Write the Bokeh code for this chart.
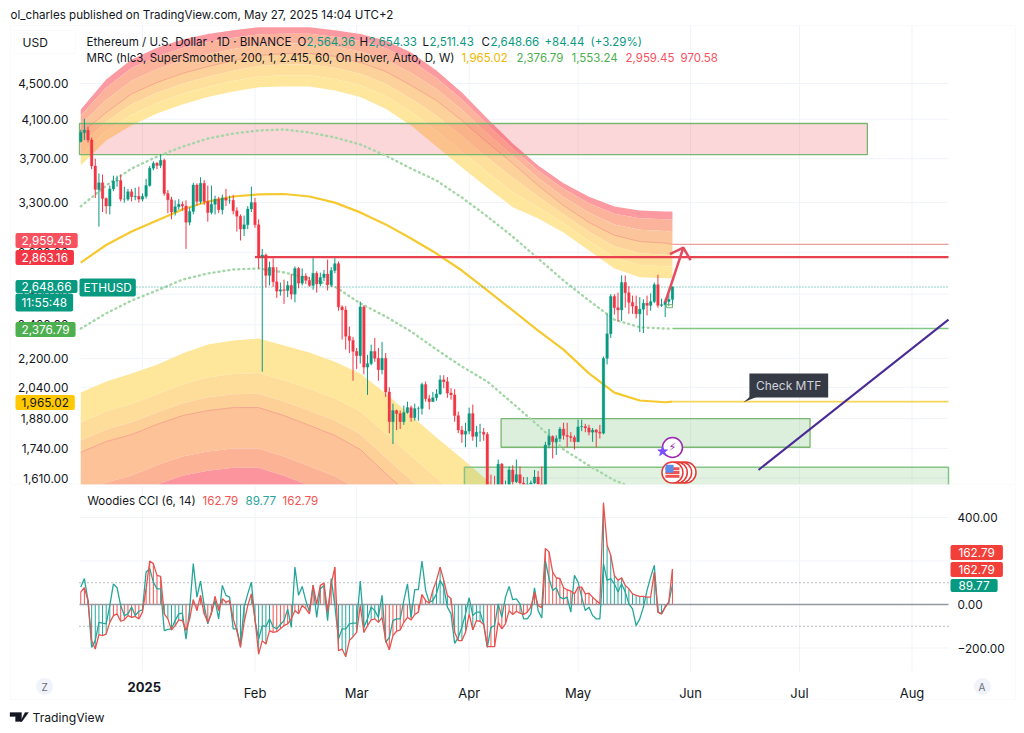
import numpy as np
from bokeh.core.properties import value
from bokeh.embed import file_html
from bokeh.layouts import column
from bokeh.models import (FixedTicker, Label, LinearAxis, LogAxis, NumeralTickFormatter,
                          PolyAnnotation, Range1d)
from bokeh.plotting import figure
from bokeh.resources import INLINE

FONT = "Inter"
RED = "#f23645"
GREEN = "#089981"
TEAL = "#26a69a"
GRID = "#f0f3fa"

# days are counted from 2025-01-01, first candle is 2024-12-15
first_day = -17
first_open = 3870
closes = [3960, 3985, 3885, 3630, 3415, 3475, 3335, 3270, 3420, 3490, 3495, 3330, 3330, 3395, 3350, 3355, 3330,
          3355, 3450, 3610, 3655, 3635, 3685, 3380, 3325, 3220, 3265, 3285, 3270, 3135, 3225, 3455, 3310,
          3470, 3310, 3215, 3285, 3330, 3240, 3340, 3320, 3320, 3230, 3185, 3080, 3115, 3245, 3300,
          3115, 2870, 2880, 2730, 2788, 2685, 2620, 2630, 2625, 2660, 2600, 2780, 2675, 2725, 2695, 2660,
          2745, 2670, 2715, 2740, 2665, 2765, 2815, 2515, 2495, 2330, 2305, 2240,
          2215, 2515, 2150, 2170, 2240, 2200, 2135, 2200, 2015, 1865, 1920, 1905, 1865, 1910, 1935, 1885,
          1930, 1930, 2055, 1980, 1965, 1985, 2005, 2080, 2070, 2010, 2000, 1895, 1825, 1805, 1820,
          1905, 1795, 1815, 1815, 1805, 1580, 1555, 1475, 1670, 1520, 1565, 1645, 1595, 1625, 1590,
          1575, 1585, 1590, 1615, 1585, 1578, 1755, 1795, 1770, 1785, 1830, 1800, 1795, 1790, 1770,
          1840, 1842, 1835, 1815, 1825, 1815, 1810, 2200, 2345, 2585, 2510, 2495, 2680, 2610, 2545,
          2520, 2470, 2500, 2540, 2525, 2550, 2665, 2525, 2530, 2550, 2564.36, 2648.66]
highs = [3990, 4105, 4020, 3910, 3700, 3560, 3550, 3345, 3450, 3540, 3540, 3550, 3440, 3420, 3420, 3430, 3440,
         3380, 3510, 3630, 3675, 3670, 3745, 3700, 3410, 3350, 3320, 3330, 3310, 3320, 3260, 3475, 3470,
         3525, 3500, 3450, 3450, 3360, 3350, 3370, 3420, 3360, 3365, 3260, 3200, 3190, 3270, 3440,
         3340, 3160, 2925, 2890, 2830, 2855, 2790, 2680, 2700, 2690, 2740, 2795, 2790, 2780, 2745, 2720,
         2855, 2760, 2750, 2770, 2845, 2790, 2855, 2830, 2525, 2520, 2390, 2325,
         2260, 2550, 2525, 2220, 2280, 2320, 2260, 2295, 2230, 2040, 1955, 1925, 1920, 1945, 1965, 1945,
         1955, 1940, 2065, 2070, 2000, 2015, 2030, 2105, 2105, 2095, 2035, 2030, 1915, 1845, 1860,
         1935, 1950, 1845, 1855, 1835, 1815, 1625, 1620, 1690, 1675, 1600, 1660, 1665, 1690, 1660,
         1615, 1615, 1600, 1645, 1640, 1660, 1770, 1830, 1800, 1800, 1840, 1860, 1860, 1815, 1800,
         1875, 1875, 1855, 1850, 1835, 1830, 1850, 2210, 2470, 2600, 2600, 2610, 2730, 2730, 2655,
         2590, 2590, 2580, 2565, 2590, 2605, 2680, 2735, 2570, 2570, 2600, 2654.33]
lows = [3860, 3885, 3860, 3600, 3340, 3100, 3220, 3205, 3200, 3400, 3440, 3310, 3300, 3315, 3310, 3320, 3300,
        3310, 3335, 3440, 3590, 3600, 3610, 3360, 3210, 3160, 3190, 3240, 3230, 2925, 3110, 3200, 3275,
        3290, 3280, 3140, 3200, 3200, 3210, 3200, 3270, 3290, 3200, 3060, 2990, 3025, 3080, 3220,
        3090, 2780, 2125, 2645, 2660, 2650, 2575, 2590, 2535, 2580, 2565, 2545, 2640, 2660, 2670, 2650,
        2630, 2610, 2655, 2690, 2625, 2650, 2745, 2490, 2310, 2250, 2230, 2075,
        2140, 2170, 2110, 2000, 2160, 2180, 2075, 2110, 1990, 1810, 1760, 1825, 1830, 1850, 1905, 1865,
        1870, 1870, 1900, 1965, 1925, 1965, 1970, 2000, 2035, 1985, 1975, 1865, 1810, 1765, 1745,
        1805, 1775, 1745, 1770, 1775, 1535, 1410, 1450, 1385, 1470, 1500, 1540, 1565, 1590, 1570,
        1535, 1565, 1570, 1585, 1565, 1565, 1570, 1740, 1695, 1710, 1770, 1780, 1745, 1770, 1735,
        1770, 1820, 1815, 1800, 1770, 1745, 1785, 1805, 2165, 2320, 2465, 2420, 2425, 2510, 2470,
        2470, 2440, 2355, 2350, 2460, 2490, 2540, 2510, 2515, 2450, 2520, 2511.43]

# MRC channel, read at these days
curve_days = [-17, -10, -3, 4, 11, 18, 25, 32, 39, 46, 53, 60, 67, 74, 81, 88, 95, 102, 109, 116, 123, 130, 137, 144, 146]
upper_top = [4205, 4547, 4790, 4940, 5045, 5120, 5170, 5210, 5210, 5210, 5170, 5120, 5033, 4880, 4655, 4395, 4108, 3850, 3635, 3470, 3350, 3266, 3233, 3225, 3225]
upper_mid = [3951, 4172, 4380, 4512, 4620, 4702, 4778, 4840, 4865, 4865, 4830, 4755, 4643, 4477, 4305, 4087, 3859, 3655, 3450, 3275, 3134, 3030, 2982, 2970, 2959.45]
upper_bot = [3634, 3879, 4035, 4162, 4262, 4345, 4406, 4455, 4465, 4465, 4418, 4345, 4215, 4035, 3819, 3616, 3431, 3261, 3166, 3053, 2913, 2779, 2717, 2710, 2710]
r1_line = [3268, 3450, 3606, 3720, 3817, 3899, 3950, 3982, 3992, 3961, 3910, 3840, 3730, 3606, 3495, 3344, 3183, 3020, 2853, 2694, 2557, 2433, 2385, 2377, 2376.79]
mean_line = [2823, 2955, 3060, 3150, 3241, 3309, 3353, 3371, 3375, 3353, 3300, 3217, 3118, 3005, 2890, 2765, 2625, 2492, 2365, 2250, 2115, 2012, 1971, 1962, 1965.02]
s1_line = [2377, 2473, 2557, 2625, 2700, 2744, 2772, 2780, 2751, 2708, 2652, 2538, 2453, 2359, 2251, 2153, 2071, 1956, 1847, 1735, 1664, 1601, 1559, 1555, 1553.24]
lower_top = [2012, 2071, 2115, 2164, 2228, 2280, 2304, 2316, 2275, 2234, 2181, 2115, 2007, 1895, 1790, 1695, 1601, 1500, 1420, 1350, 1300, 1265, 1250, 1240, 1238]
lower_mid = [1722, 1771, 1804, 1852, 1895, 1920, 1935, 1935, 1895, 1847, 1800, 1735, 1630, 1535, 1450, 1370, 1290, 1215, 1150, 1090, 1040, 1000, 975, 970, 970.58]

# Woodies CCI, one value per candle
cci_fast = [80, 119, 18, -197, -166, -82, -86, -89, -5, 95,
            77, -5, -51, -43, -12, -51, -31, -25, 149, 165,
            103, 72, 72, -120, -114, -112, -74, -43, -40, -159,
            -20, 188, 34, 108, -5, -89, -35, 18, -66, 88,
            42, 34, -112, -112, -189, -12, 49, 103, -74, -159,
            -97, -102, -66, -102, -112, -92, -74, -20, -105, 172,
            42, 83, 18, -35, 88, -59, 72, 88, -74, 119,
            -5, -159, -112, -112, -89, -86, -86, 108, -105, -66,
            -12, -28,
            -59, 42, -174, -151, -74, -66, -66, 18, 95, -59,
            68, 68, 200, 65, 11, 18, 49, 111, 80, -12,
            -43, -179, -151, -105, -43, 31, -51, -35, -35, -89,
            -197, -105, -97, 3, -59, 34, 83, 22, 26, 3,
            -66, -66, -43, 77, -28, -62, 200, 119, 65, 77,
            34, 26, 34, -35, 134, 103, 34, -28, -12, -51,
            -66, -66, 188, 111, 119, 95, 57, 95, 57, 3,
            -20, -97, -66, -12, 65, 126, 180, -35, -43, -12,
            11, 89.77]
cci_slow = [57, 77, 18, -166, -205, -139, -143, -136, -82, -51,
            -43, -77, -71, -51, -59, -55, -66, -35, 72, 200,
            188, 134, 129, -43, -66, -117, -97, -71, -74, -120,
            -66, 22, -28, 42, -43, -82, -43, 37, -28, 26,
            11, 18, -66, -120, -197, -82, -5, 49, -66, -228,
            -166, -182, -120, -128, -125, -112, -97, -89, -66, -28,
            -43, -5, -20, -43, 88, 3, 88, 99, -35, 95,
            172, -212, -205, -240, -166, -148, -128, -5, -128, -97,
            -71, -66,
            -82, -59, -166, -208, -143, -123, -117, -82, -59, -71,
            -46, -35, 46, 18, 6, 65, 111, 172, 111, 42,
            26, -128, -166, -166, -128, -43, -117, -74, -77, -92,
            -194, -194, -194, -82, -112, -89, -28, -46, -31, -40,
            -46, -35, -12, 57, -5, -15, 257, 242, 149, 123,
            119, 77, 68, 62, 49, 80, 80, 49, 52, 34,
            18, 3, 468, 273, 226, 134, 111, 123, 88, 72,
            49, 42, 37, 37, 34, 34, 149, -35, -43, -12,
            11, 162.79]
# first and last day of the histogram runs drawn in teal
teal_runs = [(-15, -9), (6, 11), (25, 35), (54, 65), (80, 94), (127, 145)]

price_ticks = [4500, 4100, 3700, 3300, 2900, 2600, 2400, 2200, 2040, 1880, 1740, 1610]
cci_ticks = [400, 200, 0, -200]
month_days = [0, 31, 59, 90, 120, 151, 181, 212]
month_names = ["", "Feb", "Mar", "Apr", "May", "Jun", "Jul", "Aug"]

last_price = 2648.66
red_level = 2863.16
pink_zone = (3740, 4055)
green_zone = (1745, 1880)
low_zone = (1400, 1656)

days = np.arange(first_day, first_day + len(closes))
opens = [first_open] + closes[:-1]

# the frames fill the whole canvas so that tags and header can lie on the scales,
# the chart itself only uses this part of the time range
chart_left, chart_right = -17.35, 222.05
x_range = Range1d(-39.11, 240.78)
p_bottom, p_top = 1584, 5233
q_bottom, q_top = -308, 542.5


def put(p, x, y, text, color="#131722", bg=None, size="11.8px", weight="normal", pad=(6, 3), bottom=486):
    # x and y are positions on the page
    kw = dict(background_fill_color=bg, border_radius=2, padding=pad) if bg else {}
    p.add_layout(Label(x=x, y=bottom - y, x_units="screen", y_units="screen", text=text, text_color=color,
                       text_font=FONT, text_font_size=size, text_font_style=weight,
                       text_baseline="middle", level="overlay", **kw))


def outline(p, xs, ys, fill=None, line="#eef0f5", bottom=486, width=1):
    p.add_layout(PolyAnnotation(xs=xs, ys=[bottom - v for v in ys], xs_units="screen", ys_units="screen",
                                fill_color=fill, fill_alpha=1 if fill else 0, line_color=line, line_width=width,
                                level="overlay"))


p = figure(width=1016, height=486, y_axis_type="log", x_range=x_range, y_range=Range1d(1575.5, 5586),
           x_axis_location=None, y_axis_location=None, output_backend="svg", toolbar_location=None,
           min_border=0)
p.outline_line_color = None
p.grid.visible = False
p.segment([chart_left] * len(price_ticks), price_ticks, [chart_right] * len(price_ticks), price_ticks, line_color=GRID)
p.segment(month_days, p_bottom, month_days, p_top, line_color=GRID)

price_axis = LogAxis(fixed_location=-18.46, ticker=FixedTicker(ticks=price_ticks),
                     formatter=NumeralTickFormatter(format="0,0.00"))
price_axis.axis_line_color = None
price_axis.major_tick_line_color = None
price_axis.minor_tick_line_color = None
price_axis.major_label_text_font = FONT
price_axis.major_label_text_font_size = "11.8px"
price_axis.major_label_text_color = "#131722"
price_axis.major_label_standoff = 1
p.add_layout(price_axis, "left")


def blend(a, b, t):
    return np.exp(np.log(a) * (1 - t) + np.log(b) * t)


top, mid, bot = np.array(upper_top), np.array(upper_mid), np.array(upper_bot)
upper_edges = [top, blend(top, mid, 0.25), blend(top, mid, 0.62), mid, blend(mid, bot, 0.33), blend(mid, bot, 0.66), bot]
upper_colors = ["#fb9aa0", "#fcb39b", "#fcc49a", "#fdd29a", "#fedf9b", "#fee79d"]
for e1, e2, c in zip(upper_edges[:-1], upper_edges[1:], upper_colors):
    p.varea(curve_days, e1, e2, fill_color=c)

ltop, lmid = np.array(lower_top), np.array(lower_mid)
lower_edges = [ltop, blend(ltop, lmid, 0.5), blend(ltop, lmid, 0.8), lmid, lmid * 0.899, lmid * 0.855, lmid * 0.6]
lower_colors = ["#fee79a", "#fedc99", "#fdd098", "#fdc298", "#fcb295", "#fb949c"]
for e1, e2, c in zip(lower_edges[:-1], lower_edges[1:], lower_colors):
    p.varea(curve_days, e2, e1, fill_color=c)
p.line(curve_days, upper_mid, line_color="#f0937f", line_width=1, line_alpha=0.7)
p.line(curve_days, lower_mid, line_color="#f0937f", line_width=1, line_alpha=0.7)

# zones
p.quad(left=chart_left, right=199.7, bottom=pink_zone[0], top=pink_zone[1], fill_color=RED, fill_alpha=0.2,
       line_color="#79b66f", line_width=1.3)
p.quad(left=98.8, right=183.9, bottom=green_zone[0], top=green_zone[1], fill_color="#4caf50", fill_alpha=0.2,
       line_color="#79b66f", line_width=1.3)
p.quad(left=88.7, right=chart_right, bottom=low_zone[0], top=low_zone[1], fill_color="#4caf50", fill_alpha=0.17,
       line_color="#86c386", line_width=1.5)

# mean and outer lines, then flat projections right of the last candle
p.line(curve_days, r1_line, line_color="#a5d6a7", line_width=2.4, line_dash=[1, 4], line_cap="round")
p.line(curve_days, s1_line, line_color="#a5d6a7", line_width=2.4, line_dash=[1, 4], line_cap="round")
p.line(curve_days, mean_line, line_color="#f6c92f", line_width=2.2)
project = [146, chart_right]
p.line(project, [upper_mid[-1]] * 2, line_color="#e9a09c", line_width=1.2)
p.line(project, [r1_line[-1]] * 2, line_color="#81c784", line_width=1.5)
p.line(project, [mean_line[-1]] * 2, line_color="#f6d55c", line_width=1.8)
p.line([chart_left, chart_right], [last_price] * 2, line_color=TEAL, line_width=1, line_dash=[1, 2])
p.line([31, chart_right], [red_level] * 2, line_color="#e8404e", line_width=2.4)

colors = [GREEN if c >= o else RED for o, c in zip(opens, closes)]
p.segment(days, lows, days, highs, line_color=colors, line_width=1)
p.vbar(x=days, bottom=opens, top=closes, width=0.72, fill_color=colors, line_color=colors, line_width=0.3)

# white strip that ends the candle pane, it keeps the wicks out of the gap below
p.quad(left=chart_left - 30, right=chart_right + 30, bottom=1575, top=p_bottom, fill_color="white", line_color=None)

# drawings
p.quad(left=144.4, right=146, bottom=2510, top=2530, fill_color=None, line_color="#79b66f", line_width=1)
p.line([144, 149], [2544, 2934], line_color="#e34b5f", line_width=2.5)
p.line([145.3, 149, 151], [2886, 2934, 2840], line_color="#e34b5f", line_width=2.5)
p.line([169.7, 222.05], [1645, 2433], line_color="#4a2a94", line_width=2)
p.patch([165.6, 167.3, 169.3], [1962, 1990, 1990], fill_color="#363a45", line_color=None)
p.quad(left=167.2, right=188.9, bottom=1987, top=2115, fill_color="#363a45", line_color=None)
p.text([178], [2050], ["Check MTF"], text_color="#d1d4dc", text_font=value(FONT), text_font_size="12px",
       text_align="center", text_baseline="middle")

# event badges
p.scatter([149.6, 148.4, 147.2, 146], [1634] * 4, size=21, fill_color="white", line_color="#e53935", line_width=1.5)
p.rect([146] * 3, [1650, 1634, 1618], width=14, height=3, width_units="screen", height_units="screen", fill_color="#ef5350", line_color=None)
p.rect([145.2], [1650], width=8, height=8, width_units="screen", height_units="screen", fill_color="#5b8de8", line_color=None)
p.scatter([146], [1744], size=20, fill_color="white", line_color="#9c27b0", line_width=1.5)
p.text([146], [1744], ["⚡"], text_color="#9c27b0", text_font=value("DejaVu Sans"), text_font_size="11px",
       text_align="center", text_baseline="middle")
p.scatter([143.3], [1726], marker="star", size=10, fill_color="#7c4dff", line_color="#7c4dff")

# header and frame, positions are page pixels
outline(p, [10, 10, 1015, 1015], [25, 484, 484, 25])
outline(p, [14, 75, 75, 14], [30, 30, 53, 53], fill="white", line="#f0f3fa")
put(p, 10, 14, "ol_charles published on TradingView.com, May 27, 2025 14:04 UTC+2", size="11.6px")
put(p, 22, 42, "USD", size="12px")
for x, text, color, size in [(86, "Ethereum / U.S. Dollar · 1D · BINANCE", "#131722", "11.6px"), (297, "O", "#131722", "11.5px"),
                             (306, "2,564.36", GREEN, "11.5px"), (359, "H", "#131722", "11.5px"), (368, "2,654.33", GREEN, "11.5px"),
                             (422, "L", "#131722", "11.5px"), (429, "2,511.43", GREEN, "11.5px"), (481, "C", "#131722", "11.5px"),
                             (490, "2,648.66", GREEN, "11.5px"), (544, "+84.44", GREEN, "11.5px"), (590, "(+3.29%)", GREEN, "11.5px")]:
    put(p, x, 41, text, color=color, size=size)
for x, text, color, size in [(86, "MRC (hlc3, SuperSmoother, 200, 1, 2.415, 60, On Hover, Auto, D, W)", "#131722", "11.5px"),
                             (461, "1,965.02", "#f2b600", "11.5px"), (516, "2,376.79", "#4caf50", "11.5px"), (571, "1,553.24", "#4caf50", "11.5px"),
                             (625, "2,959.45", "#f7525f", "11.5px"), (680, "970.58", "#f7525f", "11.5px")]:
    put(p, x, 57, text, color=color, size=size)

# price tags over the scale
put(p, 15, 240, "2,959.45", color="white", bg="#f7525f")
put(p, 15, 257, "2,863.16", color="white", bg=RED)
put(p, 15, 286, "2,648.66", color="white", bg=GREEN, pad=(6, 2))
put(p, 15, 302, "11:55:48", color="white", bg=GREEN, pad=(6, 2))
put(p, 79, 287, "ETHUSD", color="white", bg=GREEN, pad=(4, 2))
put(p, 15, 329, "2,376.79", color="white", bg="#4caf50")
put(p, 15, 402, "1,965.02", bg="#ffc800")

# second pane
q = figure(width=1016, height=239, x_range=x_range, y_range=Range1d(-556.3, q_top),
           x_axis_location=None, y_axis_location=None, output_backend="svg", toolbar_location=None,
           min_border=0)
q.outline_line_color = None
q.grid.visible = False
q.segment([chart_left] * len(cci_ticks), cci_ticks, [chart_right] * len(cci_ticks), cci_ticks, line_color=GRID)
q.segment(month_days, q_bottom, month_days, q_top, line_color=GRID)

time_axis = LinearAxis(fixed_location=q_bottom, ticker=FixedTicker(ticks=month_days),
                       major_label_overrides=dict(zip(month_days, month_names)))
time_axis.axis_line_color = None
time_axis.major_tick_line_color = None
time_axis.minor_tick_line_color = None
time_axis.major_label_text_font = FONT
time_axis.major_label_text_font_size = "13px"
time_axis.major_label_text_color = "#131722"
time_axis.major_label_standoff = 8
q.add_layout(time_axis, "below")

cci_axis = LinearAxis(fixed_location=222.6, ticker=FixedTicker(ticks=cci_ticks),
                      major_label_overrides={400: "400.00", 200: "", 0: "0.00", -200: "−200.00"})
cci_axis.axis_line_color = None
cci_axis.major_tick_line_color = None
cci_axis.minor_tick_line_color = None
cci_axis.major_label_text_font = FONT
cci_axis.major_label_text_font_size = "11.8px"
cci_axis.major_label_text_color = "#131722"
cci_axis.major_label_standoff = 1
q.add_layout(cci_axis, "right")

bar_colors = []
for d in days:
    bar_colors.append(TEAL if any(a <= d <= b for a, b in teal_runs) else "#ef5350")
q.segment(days, 0, days, cci_slow, line_color=bar_colors, line_width=1)
q.line([chart_left, chart_right], [0, 0], line_color="#9598a1", line_width=1.6)
for level in [100, -100]:
    q.line([chart_left, chart_right], [level, level], line_color="#787b86", line_width=1, line_dash=[1, 3])
q.line(days, cci_fast, line_color=TEAL, line_width=1.3)
q.line(days, cci_slow, line_color="#e8534f", line_width=1.3)

b = 725
outline(q, [10, 10, 1015, 1015], [486, 699, 699, 486], bottom=b)
put(q, 87, 500, "Woodies CCI (6, 14)", size="11.6px", bottom=b)
put(q, 202, 500, "162.79", color="#ef5350", size="11.6px", bottom=b)
put(q, 245, 500, "89.77", color=TEAL, size="11.6px", bottom=b)
put(q, 282, 500, "162.79", color="#ef5350", size="11.6px", bottom=b)
put(q, 950, 552, "162.79", color="white", bg="#f23f3a", pad=(8, 3), bottom=b)
put(q, 950, 569, "162.79", color="white", bg="#f23f3a", pad=(8, 3), bottom=b)
put(q, 950, 585, "89.77", color="white", bg=GREEN, pad=(8, 2), bottom=b)
put(q, 127, 686, "2025", size="13px", weight="bold", bottom=b)

# round buttons and the logo
q.scatter([-27, 231.4], [-377, -377], size=17, fill_color=GRID, line_color=None)
put(q, 41, 686, "Z", color="#6a6d78", size="10px", bottom=b)
put(q, 978, 686, "A", color="#6a6d78", size="10px", bottom=b)
outline(q, [9.5, 21, 21, 15, 15, 9.5], [712, 712, 721, 721, 716, 716], fill="#131722", line="#131722", bottom=b)
outline(q, [21.5, 28, 24.5, 20], [721, 712, 712, 721], fill="#131722", line="#131722", bottom=b)
put(q, 32, 716.5, "TradingView", color="#131722", size="12.2px", bottom=b)

out = column(p, q, spacing=0)
open("out.html", "w").write(file_html(out, INLINE))
